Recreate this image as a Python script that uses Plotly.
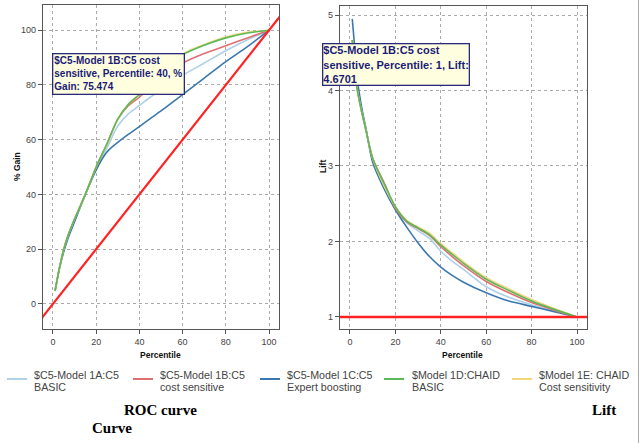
import plotly.graph_objects as go

# ---------------- data ----------------
percentile = [1, 2, 3, 5, 7, 10, 15, 20, 25, 30, 35, 40, 45, 50, 60, 70, 80, 90, 100]

model_line1 = ["$C5-Model 1A:C5", "$C5-Model 1B:C5", "$C5-Model 1C:C5", "$Model 1D:CHAID", "$Model 1E: CHAID"]
model_line2 = ["BASIC", "cost sensitive", "Expert boosting", "BASIC", "Cost sensitivity"]
colors = ["#afd0e6", "#e07070", "#3b78b0", "#5db85a", "#f3d67c"]

gain_1A = [4.7, 9, 13, 20, 25, 31, 40, 49, 57, 65, 69.5, 72.5, 75.5, 78, 83.5, 88, 92.5, 96.5, 100]
gain_1B = [4.7, 9, 13, 20, 25, 31, 40, 50, 58.5, 67.5, 72.5, 75.5, 79.5, 83, 88, 91.5, 94.3, 97.2, 100]
gain_1C = [5.0, 9, 13, 19, 24, 30, 40, 49, 55.5, 59, 62, 64.8, 67.7, 70.5, 76.5, 82.5, 88.5, 94, 100]
gain_1D = [4.7, 9, 13, 20, 25, 31, 40, 50, 58.5, 67.5, 73, 76.5, 81, 85, 91, 94.5, 97.2, 99, 100]
gain_1E = [4.6, 9, 13, 20, 25, 31, 40, 50, 58.5, 67.5, 73, 76.8, 81.3, 85.3, 91.3, 94.8, 97.5, 99.2, 100]

lift_1A = [4.67, 4.35, 4.05, 3.74, 3.48, 3.1, 2.75, 2.45, 2.25, 2.14, 2.04, 1.87, 1.74, 1.63, 1.40, 1.26, 1.16, 1.08, 1.0]
lift_1B = [4.67, 4.35, 4.05, 3.74, 3.48, 3.1, 2.78, 2.44, 2.26, 2.17, 2.08, 1.93, 1.80, 1.68, 1.47, 1.32, 1.19, 1.09, 1.0]
lift_1C = [4.95, 4.6, 4.2, 3.8, 3.5, 3.05, 2.7, 2.42, 2.19, 1.98, 1.8, 1.66, 1.55, 1.46, 1.32, 1.21, 1.14, 1.07, 1.0]
lift_1D = [4.67, 4.35, 4.05, 3.74, 3.48, 3.1, 2.77, 2.46, 2.27, 2.18, 2.09, 1.95, 1.83, 1.71, 1.5, 1.35, 1.21, 1.1, 1.0]
lift_1E = [4.67, 4.35, 4.05, 3.74, 3.48, 3.1, 2.74, 2.46, 2.28, 2.19, 2.11, 1.97, 1.85, 1.73, 1.52, 1.37, 1.23, 1.11, 1.0]

gains = [gain_1A, gain_1B, gain_1C, gain_1D, gain_1E]
lifts = [lift_1A, lift_1B, lift_1C, lift_1D, lift_1E]

baseline_x = [-10, 110]
baseline_gain = [-10, 110]
baseline_lift = [1, 1]

x_ticks = [0, 20, 40, 60, 80, 100]
gain_ticks = [0, 20, 40, 60, 80, 100]
lift_ticks = [1, 2, 3, 4, 5]

# ---------------- figure ----------------
W, H = 643, 443
fig = go.Figure()

draw_order = [0, 2, 1, 4, 3]
for i in draw_order:
    fig.add_trace(go.Scatter(x=percentile, y=gains[i], mode="lines",
                             line=dict(color=colors[i], width=1.6, shape="spline", smoothing=0.8),
                             xaxis="x", yaxis="y", showlegend=False, hoverinfo="skip"))
fig.add_trace(go.Scatter(x=baseline_x, y=baseline_gain, mode="lines", line=dict(color="#ff2222", width=2.2),
                         xaxis="x", yaxis="y", showlegend=False, hoverinfo="skip"))
for i in draw_order:
    fig.add_trace(go.Scatter(x=percentile, y=lifts[i], mode="lines",
                             line=dict(color=colors[i], width=1.6, shape="spline", smoothing=0.8),
                             xaxis="x2", yaxis="y2", showlegend=False, hoverinfo="skip"))
fig.add_trace(go.Scatter(x=baseline_x, y=baseline_lift, mode="lines", line=dict(color="#ff2222", width=2.4),
                         xaxis="x2", yaxis="y2", showlegend=False, hoverinfo="skip"))


def px(x):
    return x / W


def py(y):
    return 1 - y / H


axis_common = dict(showline=True, mirror=True, linecolor="#555555", linewidth=1.3,
                   showgrid=True, gridcolor="#aaaaaa", griddash="dot", gridwidth=1,
                   zeroline=False, ticks="outside", ticklen=4, tickcolor="#555555",
                   tickfont=dict(family="Liberation Sans, Arial", size=9, color="#444444"))

fig.update_layout(
    width=W, height=H, margin=dict(l=0, r=0, t=0, b=0),
    paper_bgcolor="white", plot_bgcolor="white", showlegend=False,
    xaxis=dict(domain=[px(43), px(279)], range=[-4.6, 104.6], tickvals=x_ticks, anchor="y", **axis_common),
    yaxis=dict(domain=[py(329), py(4.5)], range=[-9.2, 109.4], tickvals=gain_ticks, anchor="x", **axis_common),
    xaxis2=dict(domain=[px(340), px(587)], range=[-4.4, 104.4], tickvals=x_ticks, anchor="y2", **axis_common),
    yaxis2=dict(domain=[py(329), py(6)], range=[0.84, 5.12], tickvals=lift_ticks, anchor="x2", **axis_common),
)

ann = []
bold_axis = dict(family="Liberation Sans, Arial", size=8.5, color="#111111")
ann.append(dict(x=px(160), y=py(355), text="<b>Percentile</b>", font=bold_axis))
ann.append(dict(x=px(462), y=py(355), text="<b>Percentile</b>", font=bold_axis))
ann.append(dict(x=px(17), y=py(167), text="<b>% Gain</b>", textangle=-90, font=bold_axis))
ann.append(dict(x=px(323), y=py(167), text="<b>Lift</b>", textangle=-90, font=bold_axis))

# tooltips
tip_font_l = dict(family="Liberation Sans, Arial", size=10, color="#1b1b78")
tip_font_r = dict(family="Liberation Sans, Arial", size=11, color="#1b1b78")
ann.append(dict(x=px(52), y=py(53), xanchor="left", yanchor="top", align="left",
                text="<b>$C5-Model 1B:C5 cost<br>sensitive, Percentile: 40, %<br>Gain: 75.474</b>",
                font=tip_font_l, bgcolor="#ffffdf", bordercolor="#2a2a7a", borderwidth=1.3, borderpad=1))
ann.append(dict(x=px(322), y=py(43), xanchor="left", yanchor="top", align="left",
                text="<b>$C5-Model 1B:C5 cost<br>sensitive, Percentile: 1, Lift:<br>4.6701</b>",
                font=tip_font_r, bgcolor="#ffffdf", bordercolor="#2a2a7a", borderwidth=1.3, borderpad=0))

# legend
leg_font = dict(family="Liberation Sans, Arial", size=10.7, color="#444444")
leg_line_x = [7, 133, 260, 384, 512]
leg_text_x = [32, 158, 285, 410, 537]
shapes = []
for i in range(5):
    shapes.append(dict(type="line", xref="paper", yref="paper", x0=px(leg_line_x[i]), x1=px(leg_line_x[i] + 20),
                       y0=py(379), y1=py(379), line=dict(color=colors[i], width=2)))
    ann.append(dict(x=px(leg_text_x[i]), y=py(375), text=model_line1[i], font=leg_font))
    ann.append(dict(x=px(leg_text_x[i]), y=py(386.5), text=model_line2[i], font=leg_font))

shapes.append(dict(type="line", xref="paper", yref="paper", x0=px(638.5), x1=px(638.5), y0=0, y1=1,
                   line=dict(color="#aaaaaa", width=1)))

cap_font = dict(family="Liberation Serif, Times New Roman", size=15, color="#000000")
ann.append(dict(x=px(160), y=py(410), text="<b>ROC curve</b>", font=cap_font))
ann.append(dict(x=px(603.5), y=py(409.5), text="<b>Lift</b>", font=cap_font))
ann.append(dict(x=px(112), y=py(427.5), text="<b>Curve</b>", font=cap_font))

for a in ann:
    a.setdefault("xref", "paper")
    a.setdefault("yref", "paper")
    a.setdefault("showarrow", False)
    a.setdefault("yanchor", "middle")
    if a["text"] in model_line1 or a["text"] in model_line2:
        a.setdefault("xanchor", "left")
    a.setdefault("xanchor", "center")

fig.update_layout(annotations=ann, shapes=shapes)
fig.write_html("out.html")
